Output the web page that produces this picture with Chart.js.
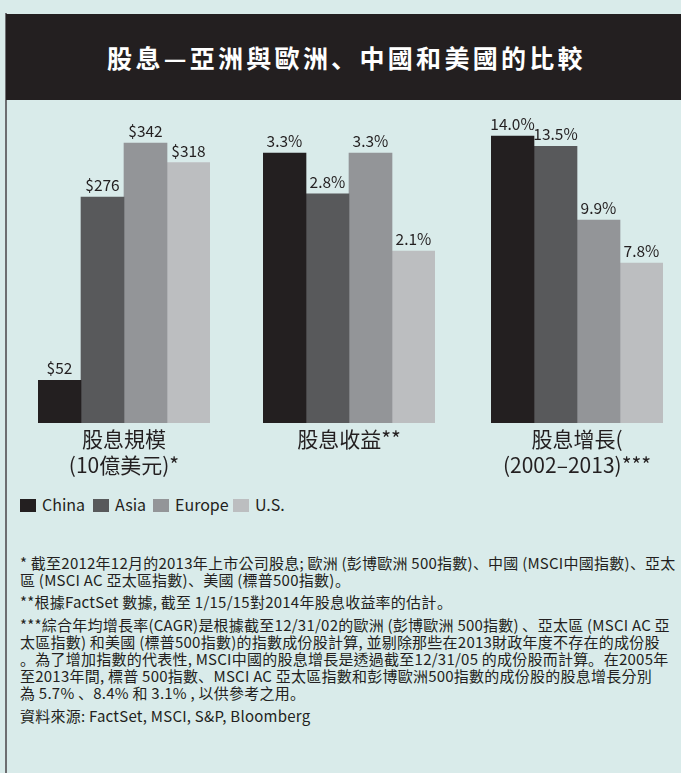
<!DOCTYPE html>
<html>
<head>
<meta charset="utf-8">
<script src="https://cdn.jsdelivr.net/npm/chart.js@4"></script>
<style>
  @font-face { font-family:'PunctJP'; font-weight:400;
    src: local('Noto Sans CJK JP Regular'), local('NotoSansCJKjp-Regular'), local('Noto Sans CJK JP');
    unicode-range: U+3001-3002; }
  @font-face { font-family:'PunctJP'; font-weight:700;
    src: local('Noto Sans CJK JP Bold'), local('NotoSansCJKjp-Bold');
    unicode-range: U+3001-3002; }
  html, body { margin:0; padding:0; }
  body { width:681px; height:773px; background:#d9ebea; position:relative; overflow:hidden;
         font-family:'PunctJP','Noto Sans CJK TC','Noto Sans',sans-serif; color:#231f20; }
  #frame { position:absolute; left:5px; top:13px; width:2px; height:760px; background:#6d6e71; }
  #titlebar { position:absolute; left:6px; top:14px; width:675px; height:86px; background:#231f20; }
  #title { position:absolute; left:6px; top:14px; width:675px; height:86px; line-height:86px; text-align:center;
           color:#ffffff; font-weight:bold; font-size:25px; letter-spacing:3.3px; padding-left:6px; box-sizing:border-box; }
  .chartbox { position:absolute; top:110px; width:226px; height:373px; }
  #legend { position:absolute; left:20px; top:497px; height:18px; font-size:16px; }
  .lg { position:absolute; top:2px; width:16px; height:13px; }
  .lt { position:absolute; top:-3px; white-space:nowrap; line-height:20px; }
  .fn { position:absolute; left:20px; font-size:15px; line-height:17px; white-space:nowrap; letter-spacing:0.24px; }
</style>
</head>
<body>
<div id="frame"></div>
<div id="titlebar"></div>
<div id="title">股息—亞洲與歐洲、中國和美國的比較</div>
<div class="chartbox" style="left:11px"><canvas id="c0"></canvas></div>
<div class="chartbox" style="left:236px"><canvas id="c1"></canvas></div>
<div class="chartbox" style="left:464px"><canvas id="c2"></canvas></div>
<div id="legend"></div>
<div class="fn" style="top:554px">* 截至2012年12月的2013年上市公司股息; 歐洲 (彭博歐洲 500指數)、中國 (MSCI中國指數)、亞太<br>區 (MSCI AC 亞太區指數)、美國 (標普500指數)。</div>
<div class="fn" style="top:593px">**根據FactSet 數據, 截至 1/15/15對2014年股息收益率的估計。</div>
<div class="fn" style="top:616px">***綜合年均增長率(CAGR)是根據截至12/31/02的歐洲 (彭博歐洲 500指數) 、亞太區 (MSCI AC 亞<br>太區指數) 和美國 (標普500指數)的指數成份股計算, 並剔除那些在2013財政年度不存在的成份股<br>。為了增加指數的代表性, MSCI中國的股息增長是透過截至12/31/05 的成份股而計算。在2005年<br>至2013年間, 標普 500指數、MSCI AC 亞太區指數和彭博歐洲500指數的成份股的股息增長分別<br>為 5.7% 、8.4% 和 3.1% , 以供參考之用。</div>
<div class="fn" style="top:707px">資料來源: FactSet, MSCI, S&amp;P, Bloomberg</div>
<script>
// ---- data ----
const categories = [['股息規模', '(10億美元)*'], ['股息收益**'], ['股息增長(', '(2002–2013)***']];
const seriesNames = ['China', 'Asia', 'Europe', 'U.S.'];
const china  = [52, 3.3, 14.0];
const asia   = [276, 2.8, 13.5];
const europe = [342, 3.3, 9.9];
const us     = [318, 2.1, 7.8];
const valueUnits = ['$', '%', '%'];
const axisMax = [382.3, 3.826, 15.27];
// ---- style ----
const colors = ['#231f20', '#58595b', '#939598', '#bcbec0'];
const seriesValues = [china, asia, europe, us];

Chart.defaults.font.family = "'Noto Sans CJK TC','Noto Sans',sans-serif";

function fmt(v, unit) {
  return unit === '$' ? '$' + v : v.toFixed(1) + '%';
}

const valueLabels = {
  id: 'valueLabels',
  afterDatasetsDraw(chart, args, opts) {
    const ctx = chart.ctx;
    ctx.save();
    ctx.font = "15.5px 'Noto Sans CJK TC','Noto Sans',sans-serif";
    ctx.fillStyle = '#231f20';
    ctx.textAlign = 'center';
    ctx.textBaseline = 'alphabetic';
    chart.data.datasets.forEach((ds, di) => {
      const meta = chart.getDatasetMeta(di);
      meta.data.forEach((el, i) => {
        ctx.fillText(fmt(ds.data[i], opts.unit), el.x, el.y - 6);
      });
    });
    ctx.restore();
  }
};

categories.forEach((cat, g) => {
  new Chart(document.getElementById('c' + g), {
    type: 'bar',
    data: {
      labels: [cat],
      datasets: seriesNames.map((name, s) => ({
        label: name,
        data: [seriesValues[s][g]],
        backgroundColor: colors[s],
        borderWidth: 0,
        barPercentage: 1,
        categoryPercentage: 1
      }))
    },
    options: {
      responsive: true,
      maintainAspectRatio: false,
      animation: false,
      layout: { padding: { left: 27, right: 27, top: 0, bottom: 0 } },
      plugins: {
        legend: { display: false },
        tooltip: { enabled: false },
        valueLabels: { unit: valueUnits[g] }
      },
      scales: {
        x: {
          grid: { display: false },
          border: { display: false },
          ticks: {
            color: '#231f20',
            font: { size: 21, lineHeight: 1.24 },
            padding: -5,
            maxRotation: 0,
            autoSkip: false
          },
          afterFit(scale) { scale.height = 60; }
        },
        y: {
          display: false,
          min: 0,
          max: axisMax[g]
        }
      }
    },
    plugins: [valueLabels]
  });
});

// legend
const legendX = [0, 73, 133, 213];
const lg = document.getElementById('legend');
seriesNames.forEach((name, s) => {
  const sq = document.createElement('div');
  sq.className = 'lg';
  sq.style.left = legendX[s] + 'px';
  sq.style.background = colors[s];
  lg.appendChild(sq);
  const t = document.createElement('div');
  t.className = 'lt';
  t.style.left = (legendX[s] + 22) + 'px';
  t.textContent = name;
  lg.appendChild(t);
});
</script>
</body>
</html>
